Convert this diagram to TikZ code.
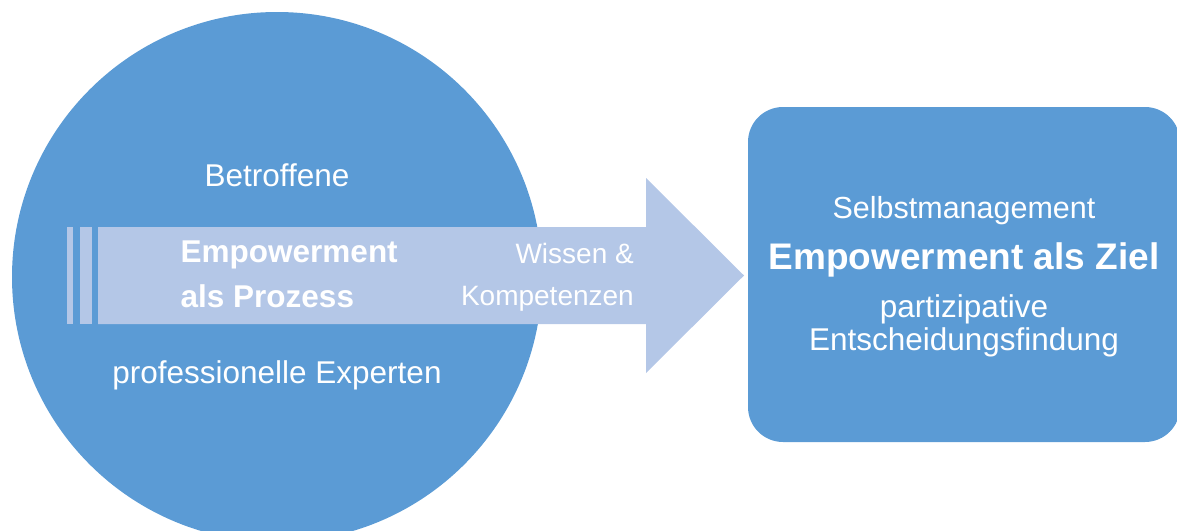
\documentclass[tikz,border=0pt]{standalone}
\usepackage{fontspec}
\setmainfont{Liberation Sans}
\usetikzlibrary{positioning}
\definecolor{empblue}{HTML}{5B9BD5}
\definecolor{emplight}{HTML}{B4C7E7}

\begin{document}
\begin{tikzpicture}[x=1pt, y=-1pt,
  every node/.style={text=white, inner sep=0pt, anchor=base},
  plain/.style={font=\fontsize{31.5}{33}\selectfont},
  strong/.style={font=\fontsize{31.5}{33}\selectfont\bfseries},
  small/.style={font=\fontsize{28}{32}\selectfont}]
\clip (0,0) rectangle (1177,530);
% the process circle and the goal box
\node[circle, fill=empblue, minimum size=530pt, anchor=center] (process) at (277,277) {};
\node[rectangle, rounded corners=35pt, fill=empblue, minimum width=432pt,
  minimum height=335pt, anchor=center] (goal) at (964,274.5) {};
% big arrow with its two stripes
\fill[emplight] (98,227) -- (646,227) -- (646,178) -- (744,275.5)
  -- (646,373) -- (646,324) -- (98,324) -- cycle;
\fill[emplight] (67,227) rectangle (73,324);
\fill[emplight] (79.5,227) rectangle (92,324);
% texts in the circle
\node[plain] (affected) at (277,186) {Betroffene};
\node[strong, anchor=base west] (empower) at (180.5,262) {Empowerment};
\node[strong, below=45pt of empower.base west, anchor=base west] (asprocess) {als Prozess};
\node[plain] (experts) at (277,383) {professionelle Experten};
\node[small, anchor=base east] (knowledge) at (634,263) {Wissen \&};
\node[small, below=42pt of knowledge.base east, anchor=base east] (skills) {Kompetenzen};
% texts in the box (base of the two-line node is its last line)
\node[font=\fontsize{30.5}{34}\selectfont] (selfmgmt) at (964,218) {Selbstmanagement};
\node[font=\fontsize{37}{40}\selectfont\bfseries] (aim) at (964,269) {Empowerment als Ziel};
\node[plain, align=center] (participation) at (964,350) {partizipative\\Entscheidungsfindung};
\end{tikzpicture}
\end{document}
